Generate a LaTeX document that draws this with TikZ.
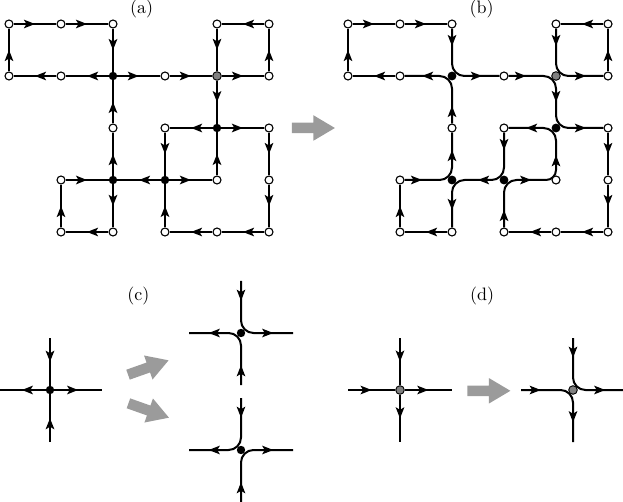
\documentclass[tikz,border=0pt]{standalone}
\usetikzlibrary{arrows.meta,decorations.markings,calc,backgrounds}
\definecolor{arrowgray}{RGB}{155,155,155}
\definecolor{dotgray}{RGB}{128,128,128}
\tikzset{
  edge/.style={line width=2pt},
  ar/.style={postaction={decorate},decoration={markings,mark=at position 0.5 with {\arrow{Stealth[length=11pt,width=8.5pt,inset=2.5pt]}}}},
  wn/.style={circle,draw=black,fill=white,line width=1.1pt,inner sep=0pt,minimum size=8pt},
  bn/.style={circle,fill=black,inner sep=0pt,minimum size=8.4pt},
  gn/.style={circle,draw=black,fill=dotgray,line width=0.9pt,inner sep=0pt,minimum size=8.6pt},
  lab/.style={font=\fontsize{10}{12}\selectfont,scale=1.8,anchor=base,inner sep=0pt},
  rc/.style={rounded corners=12.5pt},
  bigarrow/.pic={\fill[arrowgray] (-21.5pt,-5.25pt) -- (0pt,-5.25pt) -- (0pt,-12.75pt) -- (21.5pt,0pt) -- (0pt,12.75pt) -- (0pt,5.25pt) -- (-21.5pt,5.25pt) -- cycle;}
}
\begin{document}
\begin{tikzpicture}[x=1pt,y=-1pt]
\useasboundingbox (0,0) rectangle (623,502);

% labels
\node[lab] (la) at (141.7,14) {(a)};
\node[lab] (lb) at (481.7,14) {(b)};
\node[lab] (lc) at (138.3,301) {(c)};
\node[lab] (ld) at (482,301) {(d)};

% nodes of (a) and (b): grid step 52, origins (9,24) and (348,24)
\foreach \i/\j in {0/0,1/0,2/0,4/0,5/0,0/1,1/1,3/1,5/1,2/2,3/2,5/2,1/3,4/3,5/3,1/4,2/4,3/4,4/4,5/4}{
  \node[wn] (a\i\j) at ({9+52*\i},{24+52*\j}) {};
  \node[wn] (b\i\j) at ({348+52*\i},{24+52*\j}) {};
}
\foreach \i/\j in {2/1,4/2,2/3,3/3}{
  \node[bn] (a\i\j) at ({9+52*\i},{24+52*\j}) {};
  \node[bn,minimum size=8.8pt] (b\i\j) at ({348+52*\i},{24+52*\j}) {};
}
\node[gn] (a41) at (217,76) {};
\node[gn] (b41) at (556,76) {};

% crosses of (c) and (d)
\node[bn] (c0) at (50,390) {};
\coordinate (cT) at (50,338);
\coordinate (cB) at (50,442);
\coordinate (cL) at (-2,390);
\coordinate (cR) at (102,390);

\node[bn] (u0) at (241,333) {};
\coordinate (uT) at (241,281);
\coordinate (uB) at (241,385);
\coordinate (uL) at (189,333);
\coordinate (uR) at (293,333);

\node[bn] (l0) at (241,450) {};
\coordinate (lT) at (241,398);
\coordinate (lB) at (241,502);
\coordinate (lL) at (189,450);
\coordinate (lR) at (293,450);

\node[gn] (d0) at (400,390) {};
\coordinate (dT) at (400,338);
\coordinate (dB) at (400,442);
\coordinate (dL) at (348,390);
\coordinate (dR) at (452,390);

\node[gn] (e0) at (573,390) {};
\coordinate (eT) at (573,338);
\coordinate (eB) at (573,442);
\coordinate (eL) at (521,390);
\coordinate (eR) at (625,390);

% gray transition arrows
\pic at (313.4,128) {bigarrow};
\pic[rotate=19.5] at (148.3,367.5) {bigarrow};
\pic[rotate=-19.5] at (148.7,410.5) {bigarrow};
\pic at (488.9,390.8) {bigarrow};

\begin{pgfonlayer}{background}
% ---------- (a)
\foreach \s/\t in {00/10,10/20,20/21,21/11,11/01,01/00,21/31,31/41,40/41,50/40,51/50,41/51,41/42,42/32,42/52,32/33,43/42,52/53,53/54,54/44,44/34,34/33,33/23,33/43,23/22,22/21,13/23,23/24,24/14,14/13}{
  \draw[edge,ar] (a\s) -- (a\t);
}
% ---------- (b) straight edges
\foreach \s/\t in {00/10,10/20,01/00,11/01,50/40,51/50,52/53,53/54,54/44,44/34,24/14,14/13}{
  \draw[edge,ar] (b\s) -- (b\t);
}
% ---------- (b) curved chains
\draw[edge,rc] (b20) -- (b21.center) -- (b31);
\draw[edge,rc] (b31) -- (b41.center) -- (b42.center) -- (b52);
\draw[edge,rc] (b34) -- (b33.center) -- ($(b33)!0.5!(b43)$);
\draw[edge,rounded corners=10pt] ($(b33)!0.5!(b43)$) -- (b43.center) -- ($(b43)!0.5!(b42)$);
\draw[edge,rc] ($(b43)!0.5!(b42)$) -- (b42.center) -- (b32);
\draw[edge,rc] (b32) -- (b33.center) -- (b23.center) -- (b24);
\draw[edge,rc] (b13) -- (b23.center) -- (b22);
\draw[edge,rc] (b22) -- (b21.center) -- (b11);
\draw[edge,rc] (b40) -- (b41.center) -- (b51);
% ---------- (b) arrows on the straight parts
\path[edge,ar] (b20) -- ($(b21)!12.5pt!(b20)$);
\path[edge,ar] ($(b21)!12.5pt!(b31)$) -- (b31);
\path[edge,ar] (b31) -- ($(b41)!12.5pt!(b31)$);
\path[edge,ar] ($(b41)!12.5pt!(b42)$) -- ($(b42)!12.5pt!(b41)$);
\path[edge,ar] ($(b42)!12.5pt!(b52)$) -- (b52);
\path[edge,ar] (b34) -- ($(b33)!12.5pt!(b34)$);
\path[edge,ar] ($(b33)!12.5pt!(b43)$) -- ($(b43)!10pt!(b33)$);
\path[edge,ar] ($(b43)!10pt!(b42)$) -- ($(b42)!12.5pt!(b43)$);
\path[edge,ar] ($(b42)!12.5pt!(b32)$) -- (b32);
\path[edge,ar] (b32) -- ($(b33)!12.5pt!(b32)$);
\path[edge,ar] ($(b33)!12.5pt!(b23)$) -- ($(b23)!12.5pt!(b33)$);
\path[edge,ar] ($(b23)!12.5pt!(b24)$) -- (b24);
\path[edge,ar] (b13) -- ($(b23)!12.5pt!(b13)$);
\path[edge,ar] ($(b23)!12.5pt!(b22)$) -- (b22);
\path[edge,ar] (b22) -- ($(b21)!12.5pt!(b22)$);
\path[edge,ar] ($(b21)!12.5pt!(b11)$) -- (b11);
\path[edge,ar] (b40) -- ($(b41)!12.5pt!(b40)$);
\path[edge,ar] ($(b41)!12.5pt!(b51)$) -- (b51);

% ---------- (c) left cross
\draw[edge,ar] (cT) -- (c0);
\draw[edge,ar] (cB) -- (c0);
\draw[edge,ar] (c0) -- (cL);
\draw[edge,ar] (c0) -- (cR);
% ---------- (c) upper: top->right, bottom->left
\draw[edge,rc] (uT) -- (u0.center) -- (uR);
\draw[edge,rc] (uB) -- (u0.center) -- (uL);
\path[edge,ar] (uT) -- ($(u0)!12.5pt!(uT)$);
\path[edge,ar] ($(u0)!12.5pt!(uR)$) -- (uR);
\path[edge,ar] (uB) -- ($(u0)!12.5pt!(uB)$);
\path[edge,ar] ($(u0)!12.5pt!(uL)$) -- (uL);
% ---------- (c) lower: top->left, bottom->right
\draw[edge,rc] (lT) -- (l0.center) -- (lL);
\draw[edge,rc] (lB) -- (l0.center) -- (lR);
\path[edge,ar] (lT) -- ($(l0)!12.5pt!(lT)$);
\path[edge,ar] ($(l0)!12.5pt!(lL)$) -- (lL);
\path[edge,ar] (lB) -- ($(l0)!12.5pt!(lB)$);
\path[edge,ar] ($(l0)!12.5pt!(lR)$) -- (lR);
% ---------- (d) left cross
\draw[edge,ar] (dT) -- (d0);
\draw[edge,ar] (dL) -- (d0);
\draw[edge,ar] (d0) -- (dR);
\draw[edge,ar] (d0) -- (dB);
% ---------- (d) right: top->right, left->bottom
\draw[edge,rc] (eT) -- (e0.center) -- (eR);
\draw[edge,rc] (eL) -- (e0.center) -- (eB);
\path[edge,ar] (eT) -- ($(e0)!12.5pt!(eT)$);
\path[edge,ar] ($(e0)!12.5pt!(eR)$) -- (eR);
\path[edge,ar] (eL) -- ($(e0)!12.5pt!(eL)$);
\path[edge,ar] ($(e0)!12.5pt!(eB)$) -- (eB);
\end{pgfonlayer}
\end{tikzpicture}
\end{document}
